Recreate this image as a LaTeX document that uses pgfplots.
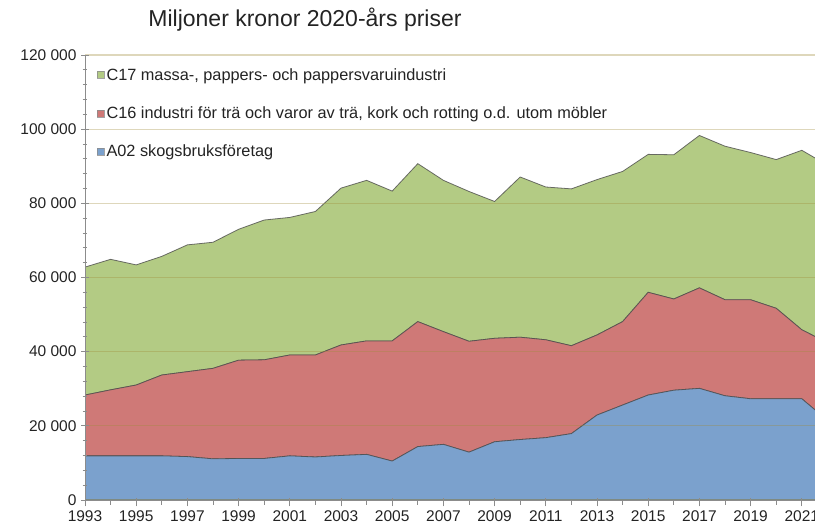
\documentclass[border=0pt]{standalone}
\usepackage{fontspec}
\setmainfont{Liberation Sans}
\usepackage{pgfplots}
\usepackage{pgfplotstable}
\pgfplotsset{compat=1.18}
\definecolor{cgreen}{RGB}{179,203,132}
\definecolor{cred}{RGB}{207,121,119}
\definecolor{cblue}{RGB}{123,161,205}
\definecolor{cgrid}{RGB}{160,140,60}
\definecolor{caxis}{RGB}{140,140,140}
\definecolor{ctext}{RGB}{35,35,35}

\pgfplotstableread{
year  A02    C16    C17
1993  11900  16400  34500
1994  11900  17800  35200
1995  11900  19100  32400
1996  11900  21800  32000
1997  11700  22900  34200
1998  11100  24400  34000
1999  11200  26500  35300
2000  11200  26600  37700
2001  11900  27200  37100
2002  11600  27500  38700
2003  12000  29800  42300
2004  12300  30600  43300
2005  10500  32400  40400
2006  14400  33700  42600
2007  15000  30400  40800
2008  12900  29900  40400
2009  15700  27900  36900
2010  16300  27600  43200
2011  16800  26400  41200
2012  17900  23700  42300
2013  22900  21600  41900
2014  25600  22500  40500
2015  28300  27700  37200
2016  29600  24600  38900
2017  30100  27100  41100
2018  28100  25900  41400
2019  27300  26700  39700
2020  27300  24400  40100
2021  27300  18600  48400
2022  21500  20900  47900
}\datatable

\begin{document}
\begin{tikzpicture}[x=1pt,y=1pt]
\useasboundingbox (0,0) rectangle (815,529);
\node[font=\fontsize{23}{27}\selectfont, text=ctext, anchor=center] at (305,509) {Miljoner kronor 2020-års priser};
\begin{axis}[
  at={(85pt,29pt)}, anchor=south west,
  scale only axis, width=742.4pt, height=445pt,
  xmin=1993, xmax=2022, ymin=0, ymax=120000,
  stack plots=y, area style,
  axis on top,
  axis lines*=left,
  axis line style={caxis, line width=0.8pt},
  scaled y ticks=false,
  ytick={0,20000,40000,60000,80000,100000,120000},
  yticklabels={0,{20 000},{40 000},{60 000},{80 000},{100 000},{120 000}},
  minor y tick num=4,
  xtick={1993,1995,...,2021},
  xticklabels={1993,1995,1997,1999,2001,2003,2005,2007,2009,2011,2013,2015,2017,2019,2021},
  minor xtick={1994,1996,...,2022},
  tick align=center,
  major tick length=8pt, minor tick length=5pt,
  x tick style={yshift=-2.5pt},
  tick style={caxis, line width=0.7pt},
  ymajorgrids,
  grid style={cgrid, opacity=0.35, line width=1.3pt},
  ticklabel style={font=\fontsize{15.5}{18}\selectfont, text=ctext},
  y tick label style={xshift=-1pt},
  x tick label style={yshift=-3pt},
  reverse legend,
  legend cell align=left,
  legend style={at={(12pt,434pt)}, anchor=north west, draw=none, fill=none,
    font=\fontsize{16.3}{19}\selectfont, text=ctext, row sep=21pt, inner sep=0pt},
  legend image code/.code={\draw[#1, draw=black!45, line width=0.3pt] (0pt,-3.5pt) rectangle (7pt,3.5pt);},
]
\addplot[fill=cblue, draw=black!70, draw opacity=0.8, line width=0.8pt] table[x=year, y=A02] {\datatable} \closedcycle;
\addlegendentry{A02 skogsbruksföretag}
\addplot[fill=cred, draw=black!70, draw opacity=0.8, line width=0.8pt] table[x=year, y=C16] {\datatable} \closedcycle;
\addlegendentry{C16 industri för trä och varor av trä, kork och rotting o.d. utom möbler}
\addplot[fill=cgreen, draw=black!70, draw opacity=0.8, line width=0.8pt] table[x=year, y=C17] {\datatable} \closedcycle;
\addlegendentry{C17 massa-, pappers- och pappersvaruindustri}
\end{axis}
\end{tikzpicture}
\end{document}
